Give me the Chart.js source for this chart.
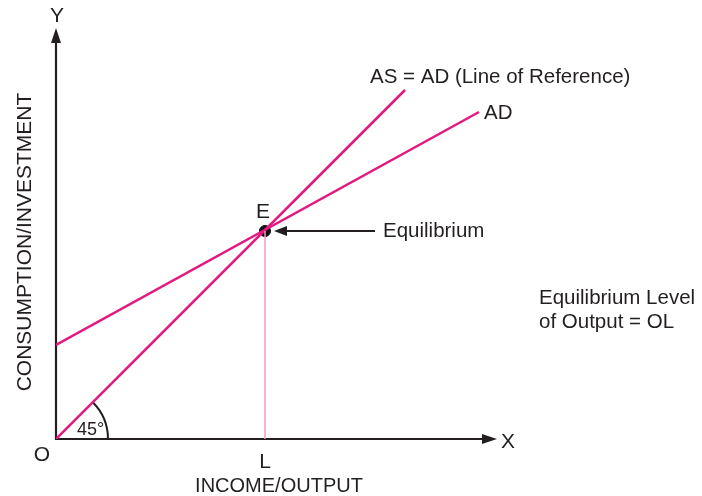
<!DOCTYPE html>
<html>
<head>
<meta charset="utf-8">
<script src="https://cdn.jsdelivr.net/npm/chart.js@4.4.1/dist/chart.umd.min.js"></script>
<style>
  html, body { margin: 0; padding: 0; background: #fff; }
  #wrap { width: 702px; height: 496px; }
</style>
</head>
<body>
<div id="wrap"><canvas id="c" width="702" height="496"></canvas></div>
<script>
// ---- data (units: income on x, consumption/investment on y) ----
const refX = [0, 349];           // AS = AD, 45 degree line
const refY = [0, 349];
const adX = [0, 423];            // aggregate demand
const adY = [94, 327];
const eqX = [209];               // equilibrium point E
const eqY = [208];
const axisMaxX = 441;
const axisMaxY = 411;

const MAGENTA = '#e2197f';
const INK = '#231f20';
const FONT = '"Liberation Sans", Arial, sans-serif';

function pts(xs, ys) {
    return xs.map((x, i) => ({ x: x, y: ys[i] }));
}

// axes, arrows and text labels
const decor = {
    id: 'decor',
    beforeDatasetsDraw(chart) {
        const ctx = chart.ctx;
        const sx = chart.scales.x, sy = chart.scales.y;
        const ox = sx.getPixelForValue(0), oy = sy.getPixelForValue(0);
        const tx = sx.getPixelForValue(axisMaxX), ty = sy.getPixelForValue(axisMaxY);
        ctx.save();
        ctx.strokeStyle = INK;
        ctx.fillStyle = INK;
        ctx.lineWidth = 2.2;
        // Y axis
        ctx.beginPath();
        ctx.moveTo(ox, oy + 1);
        ctx.lineTo(ox, ty + 10);
        ctx.stroke();
        ctx.beginPath();
        ctx.moveTo(ox, ty);
        ctx.lineTo(ox - 5, ty + 15);
        ctx.lineTo(ox + 5, ty + 15);
        ctx.closePath();
        ctx.fill();
        // X axis
        ctx.beginPath();
        ctx.moveTo(ox - 1, oy);
        ctx.lineTo(tx - 10, oy);
        ctx.stroke();
        ctx.beginPath();
        ctx.moveTo(tx, oy);
        ctx.lineTo(tx - 15, oy - 5);
        ctx.lineTo(tx - 15, oy + 5);
        ctx.closePath();
        ctx.fill();
        // 45 degree arc
        ctx.lineWidth = 2;
        ctx.beginPath();
        ctx.arc(ox, oy, 52, -Math.PI / 4, 0);
        ctx.stroke();
        ctx.restore();
    },
    afterDatasetsDraw(chart) {
        const ctx = chart.ctx;
        const sx = chart.scales.x, sy = chart.scales.y;
        const ox = sx.getPixelForValue(0), oy = sy.getPixelForValue(0);
        const tx = sx.getPixelForValue(axisMaxX), ty = sy.getPixelForValue(axisMaxY);
        const ex = sx.getPixelForValue(eqX[0]), ey = sy.getPixelForValue(eqY[0]);
        ctx.save();
        ctx.fillStyle = INK;
        ctx.strokeStyle = INK;
        ctx.textBaseline = 'middle';
        ctx.font = '21px ' + FONT;
        ctx.textAlign = 'center';
        ctx.fillText('Y', ox + 1, ty - 12);
        ctx.fillText('O', ox - 14, oy + 16);
        ctx.fillText('L', ex, oy + 23);
        ctx.fillText('E', ex - 2, ey - 19);
        ctx.textAlign = 'left';
        ctx.fillText('X', tx + 4, oy + 3);
        ctx.font = '20px ' + FONT;
        ctx.textAlign = 'center';
        ctx.fillText('INCOME/OUTPUT', ex + 14, oy + 47);
        ctx.font = '20.5px ' + FONT;
        ctx.textAlign = 'left';
        ctx.fillText('AS = AD (Line of Reference)', sx.getPixelForValue(refX[1]) - 35, sy.getPixelForValue(refY[1]) - 13);
        ctx.fillText('AD', sx.getPixelForValue(adX[1]) + 5, sy.getPixelForValue(adY[1]) + 1);
        ctx.fillText('Equilibrium', ex + 118, ey);
        ctx.fillText('Equilibrium Level', 539, 298);
        ctx.fillText('of Output = OL', 539, 322);
        ctx.font = '18px ' + FONT;
        ctx.fillText('45°', ox + 21, oy - 9);
        // rotated axis title
        ctx.font = '21px ' + FONT;
        ctx.save();
        ctx.translate(25, 242);
        ctx.rotate(-Math.PI / 2);
        ctx.textAlign = 'center';
        ctx.fillText('CONSUMPTION/INVESTMENT', 0, 0);
        ctx.restore();
        // arrow pointing at E
        ctx.lineWidth = 2;
        ctx.beginPath();
        ctx.moveTo(ex + 110, ey);
        ctx.lineTo(ex + 18, ey);
        ctx.stroke();
        ctx.beginPath();
        ctx.moveTo(ex + 9, ey);
        ctx.lineTo(ex + 22, ey - 5);
        ctx.lineTo(ex + 22, ey + 5);
        ctx.closePath();
        ctx.fill();
        ctx.restore();
    }
};

new Chart(document.getElementById('c').getContext('2d'), {
    type: 'line',
    data: {
        datasets: [
            {
                label: 'OL',
                data: pts([eqX[0], eqX[0]], [0, eqY[0]]),
                borderColor: '#f49ac1',
                borderWidth: 1.5,
                pointRadius: 0
            },
            {
                label: 'AS = AD',
                data: pts(refX, refY),
                borderColor: MAGENTA,
                borderWidth: 2.5,
                pointRadius: 0
            },
            {
                label: 'AD',
                data: pts(adX, adY),
                borderColor: MAGENTA,
                borderWidth: 2.5,
                pointRadius: 0
            },
            {
                label: 'E',
                data: pts(eqX, eqY),
                showLine: false,
                pointRadius: 5.5,
                pointBackgroundColor: '#111',
                pointBorderColor: '#111'
            }
        ]
    },
    options: {
        responsive: false,
        animation: false,
        devicePixelRatio: 1,
        layout: { padding: { left: 56, right: 205, top: 28, bottom: 57 } },
        plugins: { legend: { display: false }, tooltip: { enabled: false } },
        scales: {
            x: { type: 'linear', min: 0, max: axisMaxX, display: false },
            y: { type: 'linear', min: 0, max: axisMaxY, display: false }
        }
    },
    plugins: [decor]
});
</script>
</body>
</html>
